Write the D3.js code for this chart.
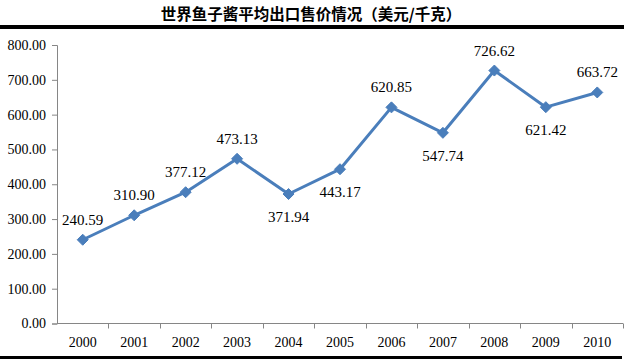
<!DOCTYPE html>
<html>
<head>
<meta charset="utf-8">
<script src="https://cdn.jsdelivr.net/npm/d3@7"></script>
<style>
  html, body { margin: 0; padding: 0; background: #fff; }
  svg { display: block; }
  .num { font-family: "Liberation Serif", "Times New Roman", serif; }
</style>
</head>
<body>
<svg id="chart" width="624" height="359"></svg>
<script>
const title = "世界鱼子酱平均出口售价情况（美元/千克）";
const years = ["2000","2001","2002","2003","2004","2005","2006","2007","2008","2009","2010"];
const prices = [240.59, 310.90, 377.12, 473.13, 371.94, 443.17, 620.85, 547.74, 726.62, 621.42, 663.72];
const labelSide = ["top","top","top","top","bottom","bottom","top","bottom","top","bottom","top"];
const yTicks = [0, 100, 200, 300, 400, 500, 600, 700, 800];

const svg = d3.select("#chart");
const W = 624, H = 359;
const plot = { left: 57, right: 623, top: 45, bottom: 323.5 };

// top & bottom rules
svg.append("rect").attr("x", 0).attr("y", 25).attr("width", W).attr("height", 4).attr("fill", "#000");
svg.append("rect").attr("x", 0).attr("y", 356).attr("width", 622).attr("height", 3).attr("fill", "#000");

svg.append("text")
  .attr("x", 311).attr("y", 20)
  .attr("text-anchor", "middle")
  .style("font-family", "'Noto Sans CJK SC', sans-serif")
  .attr("font-weight", "bold")
  .attr("font-size", "15.5px")
  .attr("fill", "#000")
  .text(title);

const x = d3.scaleBand().domain(years).range([plot.left, plot.right]).paddingInner(0).paddingOuter(0);
const y = d3.scaleLinear().domain([0, 800]).range([plot.bottom, plot.top]);

const axisColor = "#868686";

// Y axis
const yAxis = svg.append("g")
  .attr("transform", `translate(${plot.left},0)`)
  .call(d3.axisLeft(y).tickValues(yTicks).tickFormat(d3.format(".2f")).tickSize(5).tickPadding(6));
yAxis.attr("font-family", null).attr("font-size", null);
yAxis.select(".domain").attr("stroke", axisColor).attr("stroke-width", 1);
yAxis.selectAll(".tick line").attr("stroke", axisColor);
yAxis.selectAll(".tick text").attr("class", "num").attr("font-size", "14px").attr("fill", "#000");

// X axis with tick marks at band boundaries
const xg = svg.append("g").attr("transform", `translate(0,${plot.bottom})`);
xg.append("line").attr("x1", plot.left).attr("x2", plot.right).attr("y1", 0).attr("y2", 0)
  .attr("stroke", axisColor).attr("stroke-width", 1);
const bounds = years.map(d => x(d)).concat([x(years[years.length - 1]) + x.bandwidth()]);
xg.selectAll("line.tk").data(bounds.slice(1)).join("line").attr("class", "tk")
  .attr("x1", d => Math.round(d) + 0.5).attr("x2", d => Math.round(d) + 0.5)
  .attr("y1", 0).attr("y2", 5).attr("stroke", axisColor);
xg.selectAll("text").data(years).join("text")
  .attr("class", "num")
  .attr("x", d => x(d) + x.bandwidth() / 2)
  .attr("y", 23)
  .attr("text-anchor", "middle")
  .attr("font-size", "14px").attr("fill", "#000")
  .text(d => d);

// Line
const cx = (d, i) => x(years[i]) + x.bandwidth() / 2;
const lineColor = "#4A7EBB";
svg.append("path")
  .datum(prices)
  .attr("fill", "none")
  .attr("stroke", lineColor)
  .attr("stroke-width", 3)
  .attr("stroke-linejoin", "round")
  .attr("d", d3.line().x((d, i) => cx(d, i)).y(d => y(d)));

// Markers (diamonds)
const r = 5.5;
svg.selectAll("path.mk").data(prices).join("path").attr("class", "mk")
  .attr("transform", (d, i) => `translate(${cx(d, i)},${y(d)})`)
  .attr("d", `M0,${-r}L${r},0L0,${r}L${-r},0Z`)
  .attr("fill", lineColor).attr("stroke", lineColor).attr("stroke-width", 1);

// Data labels
svg.selectAll("text.lbl").data(prices).join("text").attr("class", "lbl num")
  .attr("x", (d, i) => cx(d, i))
  .attr("y", (d, i) => labelSide[i] === "top" ? y(d) - 15 : y(d) + 28)
  .attr("text-anchor", "middle")
  .attr("font-size", "15px").attr("fill", "#000")
  .text(d => d.toFixed(2));
</script>
</body>
</html>
